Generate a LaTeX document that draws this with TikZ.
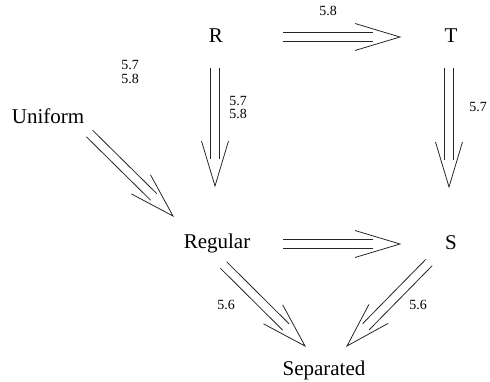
\documentclass[tikz,border=0pt]{standalone}
\usepackage{fontspec}
\setmainfont{Liberation Serif}
\usetikzlibrary{calc}
\tikzset{
  obj/.style={inner sep=0pt, anchor=base, font=\fontsize{21}{24}\selectfont},
  lbl/.style={inner sep=0pt, anchor=base, font=\fontsize{14}{16}\selectfont},
  arr/.style={line width=0.8pt, black!85},
}
\newcommand\imparrow[2]{%
  \coordinate (mm) at ($(#2)!27pt!(#1)$);
  \coordinate (hh) at ($(#2)!45pt!(#1)$);
  \draw[arr] ($(#1)!4.5pt!90:(#2)$) -- ($(mm)!4.5pt!-90:(#1)$);
  \draw[arr] ($(#1)!4.5pt!-90:(#2)$) -- ($(mm)!4.5pt!90:(#1)$);
  \draw[arr] ($(hh)!13.5pt!90:(#1)$) -- (#2) -- ($(hh)!13.5pt!-90:(#1)$);
}
\begin{document}
\begin{tikzpicture}[x=1pt,y=-1pt]
\useasboundingbox (0,0) rectangle (490,381);
% objects
\node[obj] (R) at (216,42) {R};
\node[obj] (T) at (451,42) {T};
\node[obj] (Uniform) at (48,123) {Uniform};
\node[obj] (Regular) at (217,248) {Regular};
\node[obj] (S) at (451,249) {S};
\node[obj] (Separated) at (324,375) {Separated};
% labels
\node[lbl] (l1) at (328,15) {5.8};
\node[lbl] (l2) at (130,69) {5.7};
\node[lbl] (l3) at (130,83) {5.8};
\node[lbl] (l4) at (238,105) {5.7};
\node[lbl] (l5) at (238,118) {5.8};
\node[lbl] (l6) at (478,111) {5.7};
\node[lbl] (l7) at (226,309) {5.6};
\node[lbl] (l8) at (418,309) {5.6};
% arrow ends
\coordinate (RTs) at (283,37);   \coordinate (RTe) at (400,37);
\coordinate (RRs) at (215,68);   \coordinate (RRe) at (215,186);
\coordinate (TSs) at (449,68);   \coordinate (TSe) at (449,187);
\coordinate (URs) at (89.5,133.5); \coordinate (URe) at (173,216);
\coordinate (RSs) at (283,244);  \coordinate (RSe) at (400,244);
\coordinate (RPs) at (223.5,265); \coordinate (RPe) at (305,346);
\coordinate (SPs) at (429,262.5); \coordinate (SPe) at (347,346);
\imparrow{RTs}{RTe}
\imparrow{RRs}{RRe}
\imparrow{TSs}{TSe}
\imparrow{URs}{URe}
\imparrow{RSs}{RSe}
\imparrow{RPs}{RPe}
\imparrow{SPs}{SPe}
\end{tikzpicture}
\end{document}
